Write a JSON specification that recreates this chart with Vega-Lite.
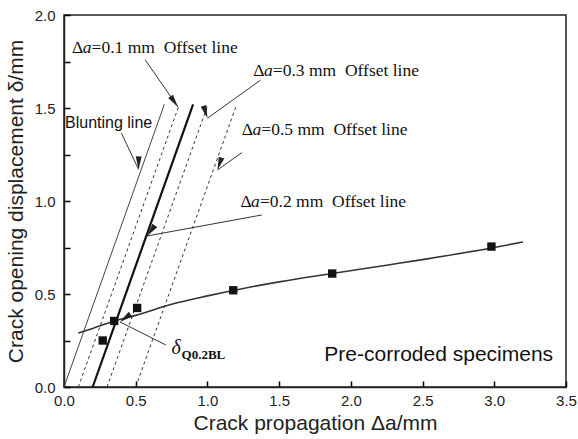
{
  "$schema": "https://vega.github.io/schema/vega-lite/v6.json",
  "width": 502,
  "height": 372,
  "autosize": "none",
  "padding": {"left": 64, "top": 15, "right": 12, "bottom": 52},
  "background": "white",
  "config": {
    "view": {"stroke": "#222", "strokeWidth": 1.5},
    "axis": {
      "domain": true, "domainColor": "#222", "domainWidth": 1.5,
      "ticks": true, "tickColor": "black", "tickWidth": 1.5, "tickSize": -6, "tickOpacity": 1,
      "grid": false,
      "labelFont": "Liberation Sans", "labelFontSize": 15, "labelColor": "#222", "labelFlush": false,
      "titleFont": "Liberation Sans", "titleFontSize": 21, "titleFontWeight": "normal", "titleColor": "#222",
      "zindex": 2
    }
  },
  "datasets": {
    "pts": [
      {"x": 0.27, "y": 0.25}, {"x": 0.35, "y": 0.355}, {"x": 0.51, "y": 0.425},
      {"x": 1.18, "y": 0.52}, {"x": 1.87, "y": 0.61}, {"x": 2.98, "y": 0.755}
    ],
    "fit": [
      {"x": 0.1, "y": 0.29}, {"x": 0.2, "y": 0.315}, {"x": 0.35, "y": 0.355}, {"x": 0.5, "y": 0.385},
      {"x": 0.75, "y": 0.445}, {"x": 1.0, "y": 0.49}, {"x": 1.25, "y": 0.53}, {"x": 1.5, "y": 0.565},
      {"x": 1.87, "y": 0.61}, {"x": 2.25, "y": 0.655}, {"x": 2.5, "y": 0.685}, {"x": 3.0, "y": 0.75},
      {"x": 3.2, "y": 0.78}
    ],
    "lines": [
      {"name": "blunt", "x": 0.0, "y": 0.0}, {"name": "blunt", "x": 0.7, "y": 1.52},
      {"name": "o1", "x": 0.1, "y": 0.0}, {"name": "o1", "x": 0.8, "y": 1.51},
      {"name": "o2", "x": 0.2, "y": 0.0}, {"name": "o2", "x": 0.9, "y": 1.52},
      {"name": "o3", "x": 0.3, "y": 0.0}, {"name": "o3", "x": 1.0, "y": 1.51},
      {"name": "o5", "x": 0.5, "y": 0.0}, {"name": "o5", "x": 1.2, "y": 1.51}
    ],
    "arrows": [
      {"id": "a1", "x": 0.565, "y": 1.76, "x2": 0.795, "y2": 1.505},
      {"id": "a3", "x": 1.37, "y": 1.65, "x2": 1.0, "y2": 1.445},
      {"id": "ab", "x": 0.40, "y": 1.365, "x2": 0.52, "y2": 1.17},
      {"id": "a5", "x": 1.24, "y": 1.26, "x2": 1.07, "y2": 1.167},
      {"id": "a2", "x": 1.38, "y": 0.925, "x2": 0.58, "y2": 0.812},
      {"id": "ad", "x": 0.71, "y": 0.226, "x2": 0.39, "y2": 0.35}
    ],
    "offsetLabels": [
      {"val": "=0.1 mm\u00a0\u00a0Offset line", "x": 0.056, "y": 1.82},
      {"val": "=0.3 mm\u00a0\u00a0Offset line", "x": 1.32, "y": 1.70},
      {"val": "=0.5 mm\u00a0\u00a0Offset line", "x": 1.24, "y": 1.38},
      {"val": "=0.2 mm\u00a0\u00a0Offset line", "x": 1.23, "y": 0.995}
    ]
  },
  "layer": [
    {
      "data": {"name": "lines"},
      "transform": [{"filter": "datum.name == 'blunt'"}],
      "mark": {"type": "line", "color": "#444", "strokeWidth": 1},
      "encoding": {
        "x": {"field": "x", "type": "quantitative",
          "scale": {"domain": [0, 3.5], "nice": false, "zero": false},
          "axis": {
            "values": [0, 0.25, 0.5, 0.75, 1, 1.25, 1.5, 1.75, 2, 2.25, 2.5, 2.75, 3, 3.25, 3.5],
            "labelExpr": "datum.value % 0.5 == 0 ? format(datum.value, '.1f') : ''",
            "labelPadding": 12,
            "title": "Crack propagation Δa/mm",
            "titlePadding": 4
          }
        },
        "y": {"field": "y", "type": "quantitative",
          "scale": {"domain": [0, 2], "nice": false, "zero": false},
          "axis": {
            "values": [0, 0.25, 0.5, 0.75, 1, 1.25, 1.5, 1.75, 2],
            "labelExpr": "datum.value % 0.5 == 0 ? format(datum.value, '.1f') : ''",
            "labelPadding": 15,
            "title": "Crack opening displacement δ/mm",
            "titlePadding": 8
          }
        }
      }
    },
    {
      "data": {"name": "lines"},
      "transform": [{"filter": "datum.name == 'o1' || datum.name == 'o3' || datum.name == 'o5'"}],
      "mark": {"type": "line", "color": "#333", "strokeWidth": 1, "strokeDash": [3, 3]},
      "encoding": {
        "x": {"field": "x", "type": "quantitative"},
        "y": {"field": "y", "type": "quantitative"},
        "detail": {"field": "name"}
      }
    },
    {
      "data": {"name": "lines"},
      "transform": [{"filter": "datum.name == 'o2'"}],
      "mark": {"type": "line", "color": "#111", "strokeWidth": 2.2},
      "encoding": {
        "x": {"field": "x", "type": "quantitative"},
        "y": {"field": "y", "type": "quantitative"}
      }
    },
    {
      "data": {"name": "fit"},
      "mark": {"type": "line", "color": "#333", "strokeWidth": 1.6, "interpolate": "monotone"},
      "encoding": {
        "x": {"field": "x", "type": "quantitative"},
        "y": {"field": "y", "type": "quantitative"}
      }
    },
    {
      "data": {"name": "pts"},
      "mark": {"type": "point", "shape": "square", "filled": true, "color": "#111", "opacity": 1, "size": 70},
      "encoding": {
        "x": {"field": "x", "type": "quantitative"},
        "y": {"field": "y", "type": "quantitative"}
      }
    },
    {
      "data": {"name": "arrows"},
      "mark": {"type": "rule", "color": "#333", "strokeWidth": 1},
      "encoding": {
        "x": {"field": "x", "type": "quantitative"},
        "y": {"field": "y", "type": "quantitative"},
        "x2": {"field": "x2"},
        "y2": {"field": "y2"}
      }
    },
    {
      "data": {"name": "arrows"},
      "mark": {"type": "point", "shape": "M0,0L0.5,2.2L-0.5,2.2Z", "filled": true, "color": "#222", "opacity": 1, "size": 140},
      "encoding": {
        "x": {"field": "x2", "type": "quantitative"},
        "y": {"field": "y2", "type": "quantitative"},
        "angle": {"field": "id", "type": "nominal", "legend": null,
          "scale": {"domain": ["a1", "a3", "ab", "a5", "a2", "ad"], "range": [144.9, 233.8, 154.7, 235.8, 259.7, 296.6]}}
      }
    },
    {
      "data": {"name": "offsetLabels"},
      "mark": {"type": "text", "align": "left", "baseline": "middle", "font": "Liberation Serif", "fontSize": 17.5, "color": "#111"},
      "encoding": {
        "x": {"field": "x", "type": "quantitative"},
        "y": {"field": "y", "type": "quantitative"},
        "text": {"value": "Δ"}
      }
    },
    {
      "data": {"name": "offsetLabels"},
      "mark": {"type": "text", "align": "left", "baseline": "middle", "font": "Liberation Serif", "fontStyle": "italic", "fontSize": 17.5, "color": "#111", "dx": 10.7},
      "encoding": {
        "x": {"field": "x", "type": "quantitative"},
        "y": {"field": "y", "type": "quantitative"},
        "text": {"value": "a"}
      }
    },
    {
      "data": {"name": "offsetLabels"},
      "mark": {"type": "text", "align": "left", "baseline": "middle", "font": "Liberation Serif", "fontSize": 17.5, "color": "#111", "dx": 19.5},
      "encoding": {
        "x": {"field": "x", "type": "quantitative"},
        "y": {"field": "y", "type": "quantitative"},
        "text": {"field": "val"}
      }
    },
    {
      "data": {"values": [{"label": "Blunting line", "x": 0.007, "y": 1.42}]},
      "mark": {"type": "text", "align": "left", "baseline": "middle", "font": "Liberation Sans", "fontSize": 16, "color": "#111"},
      "encoding": {
        "x": {"field": "x", "type": "quantitative"},
        "y": {"field": "y", "type": "quantitative"},
        "text": {"field": "label"}
      }
    },
    {
      "data": {"values": [{"label": "Pre-corroded specimens", "x": 3.41, "y": 0.172}]},
      "mark": {"type": "text", "align": "right", "baseline": "middle", "font": "Liberation Sans", "fontSize": 21, "color": "#111"},
      "encoding": {
        "x": {"field": "x", "type": "quantitative"},
        "y": {"field": "y", "type": "quantitative"},
        "text": {"field": "label"}
      }
    },
    {
      "data": {"values": [{"label": "δ", "x": 0.75, "y": 0.21}]},
      "mark": {"type": "text", "align": "left", "baseline": "middle", "font": "Liberation Serif", "fontStyle": "italic", "fontSize": 20, "color": "#111"},
      "encoding": {
        "x": {"field": "x", "type": "quantitative"},
        "y": {"field": "y", "type": "quantitative"},
        "text": {"field": "label"}
      }
    },
    {
      "data": {"values": [{"label": "Q0.2BL", "x": 0.75, "y": 0.21}]},
      "mark": {"type": "text", "align": "left", "baseline": "middle", "font": "Liberation Serif", "fontWeight": "bold", "fontSize": 13, "color": "#111", "dx": 10, "dy": 7},
      "encoding": {
        "x": {"field": "x", "type": "quantitative"},
        "y": {"field": "y", "type": "quantitative"},
        "text": {"field": "label"}
      }
    }
  ]
}
